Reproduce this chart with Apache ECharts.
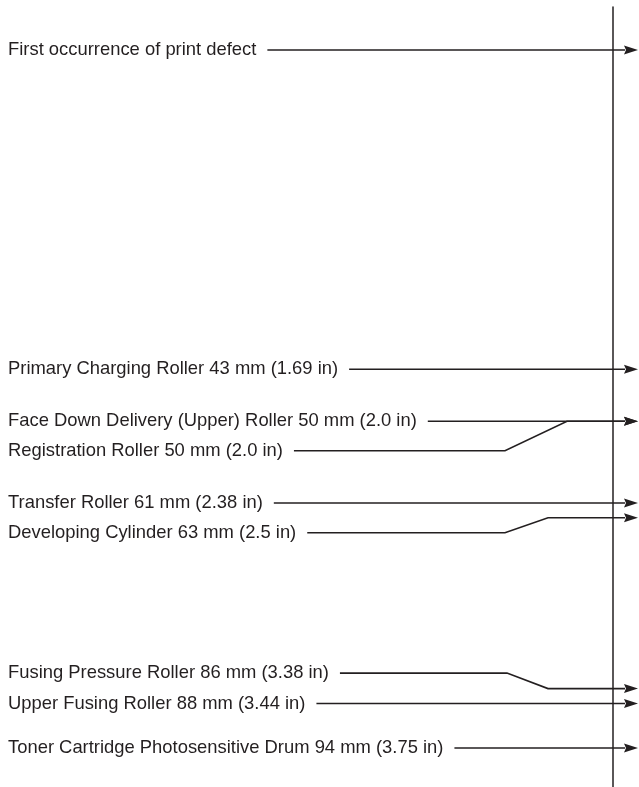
<!DOCTYPE html>
<html>
<head>
<meta charset="utf-8">
<script src="https://cdn.jsdelivr.net/npm/echarts@6/dist/echarts.min.js"></script>
<style>
html, body { margin: 0; padding: 0; background: #fff; }
#chart { width: 639px; height: 787px; }
</style>
</head>
<body>
<div id="chart"></div>
<script>
// distance (mm) from the first occurrence of the defect
const labels = [
    'First occurrence of print defect',
    'Primary Charging Roller 43 mm (1.69 in)',
    'Face Down Delivery (Upper) Roller 50 mm (2.0 in)',
    'Registration Roller 50 mm (2.0 in)',
    'Transfer Roller 61 mm (2.38 in)',
    'Developing Cylinder 63 mm (2.5 in)',
    'Fusing Pressure Roller 86 mm (3.38 in)',
    'Upper Fusing Roller 88 mm (3.44 in)',
    'Toner Cartridge Photosensitive Drum 94 mm (3.75 in)'
];
const periodsMm = [0, 43, 50, 50, 61, 63, 86, 88, 94];

// layout only: label shift (px) from the arrow, and leader bend x positions
const labelShift = [0, 0, 0, 29.5, 0, 15, -15.5, 0, 0];
const bendStart = [0, 0, 0, 505, 0, 505, 507, 0, 0];
const bendEnd = [0, 0, 0, 567, 0, 548, 548, 0, 0];

const FONT = '18.4px "Liberation Sans", Arial, Helvetica, sans-serif';
const INK = '#231f20';
const measure = document.createElement('canvas').getContext('2d');
measure.font = FONT;

let myChart = echarts.init(document.getElementById('chart'));

const option = {
    animation: false,
    backgroundColor: '#fff',
    grid: { left: 8, right: 26, top: 7, bottom: 0 },
    xAxis: { type: 'value', min: 0, max: 100, show: false },
    yAxis: {
        type: 'value',
        inverse: true,
        position: 'right',
        min: -5.79,
        max: 99.25,
        axisLine: { show: true, onZero: false, lineStyle: { color: INK, width: 1.5 } },
        axisTick: { show: false },
        axisLabel: { show: false },
        splitLine: { show: false }
    },
    series: [{
        type: 'custom',
        clip: false,
        data: periodsMm.map(function (v, i) { return [0, v, i]; }),
        renderItem: function (params, api) {
            const i = api.value(2);
            const y = api.coord([0, api.value(1)])[1];
            const ly = y + labelShift[i];
            const textX = 8;
            const lineStart = textX + measure.measureText(labels[i]).width + 11;
            const headStart = 625, tip = 638;
            let pts = [[lineStart, ly]];
            if (labelShift[i] !== 0) {
                pts.push([bendStart[i], ly]);
                pts.push([bendEnd[i], y]);
            }
            pts.push([headStart, y]);
            return {
                type: 'group',
                children: [
                    {
                        type: 'text',
                        style: {
                            text: labels[i],
                            x: textX, y: ly,
                            font: FONT,
                            fill: INK,
                            verticalAlign: 'middle'
                        }
                    },
                    {
                        type: 'polyline',
                        shape: { points: pts },
                        style: { stroke: INK, lineWidth: 1.6, fill: null }
                    },
                    {
                        type: 'polygon',
                        shape: { points: [[headStart - 1, y - 4.5], [tip, y], [headStart - 1, y + 4.5], [headStart + 1, y]] },
                        style: { fill: INK, stroke: null }
                    }
                ]
            };
        }
    }]
};
myChart.setOption(option);
</script>
</body>
</html>
